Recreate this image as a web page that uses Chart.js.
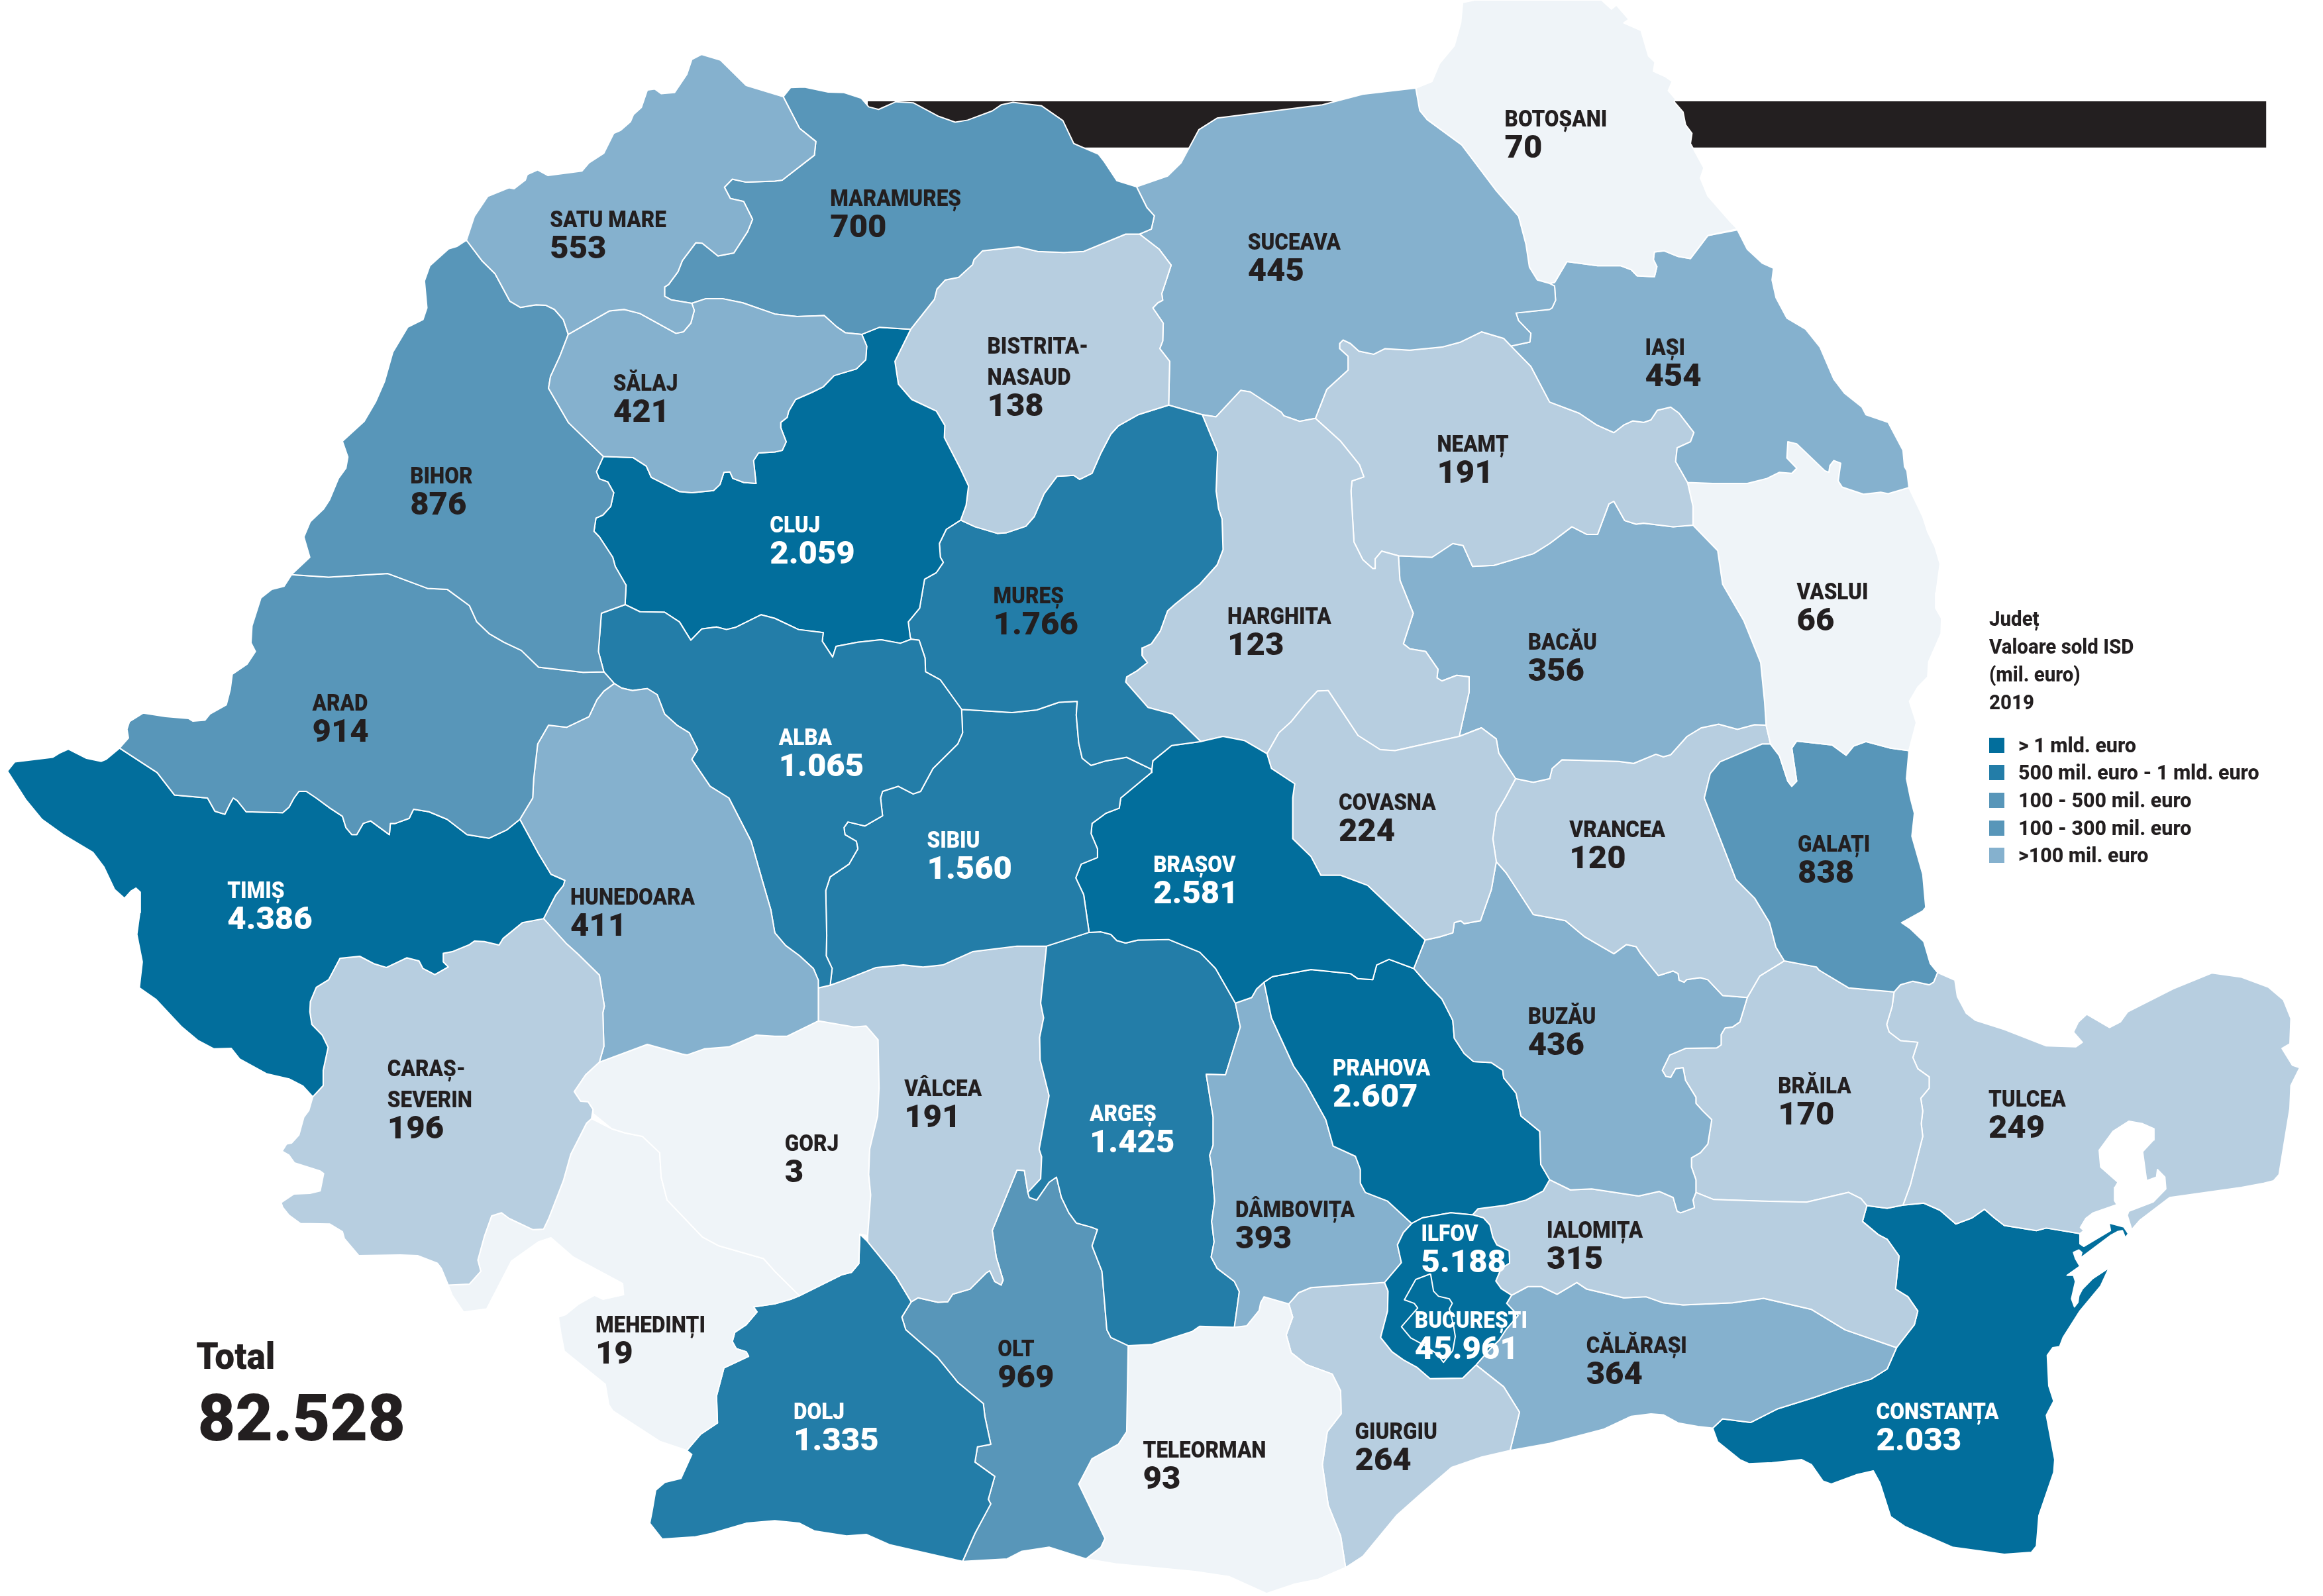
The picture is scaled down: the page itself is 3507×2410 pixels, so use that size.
<!DOCTYPE html>
<html lang="ro"><head><meta charset="utf-8"><title>Valoare sold ISD 2019</title>
<style>html,body{margin:0;padding:0;background:#fff}canvas{display:block}</style>
<script src="https://cdn.jsdelivr.net/npm/chart.js@4"></script></head>
<body><canvas id="c" width="3507" height="2410"></canvas>
<script>
const SatuMare=[944,472,960,425,987,386,1030,369,1040,371,1063,354,1067,343,1088,334,1109,345,1178,336,1192,320,1222,301,1242,262,1256,256,1276,239,1282,225,1298,211,1310,177,1325,175,1338,184,1365,182,1390,146,1400,117,1420,107,1458,118,1510,168,1585,190,1618,252,1651,278,1648,305,1583,354,1568,356,1510,358,1482,352,1466,368,1478,390,1505,396,1523,431,1513,455,1485,497,1453,503,1421,478,1408,477,1381,512,1372,534,1353,559,1345,564,1345,582,1358,589,1400,596,1405,610,1398,635,1383,652,1368,655,1295,616,1263,608,1233,611,1150,657,1140,628,1122,608,1105,600,1085,599,1053,604,1032,592,1002,538,975,512];
const Salaj=[1150,657,1233,611,1263,608,1295,616,1368,655,1383,652,1398,635,1405,610,1400,596,1428,587,1463,587,1503,595,1568,617,1613,622,1668,620,1693,642,1711,654,1744,657,1754,680,1752,707,1733,725,1688,738,1666,760,1643,771,1610,785,1596,808,1593,820,1580,830,1580,840,1591,868,1583,885,1568,888,1535,890,1525,905,1530,950,1505,948,1483,940,1477,927,1465,928,1457,952,1444,964,1400,968,1375,966,1318,938,1308,916,1281,899,1221,897,1150,830,1110,763,1114,740,1133,700];
const Maramures=[1585,190,1600,172,1628,171,1676,181,1708,182,1743,193,1758,210,1778,215,1813,200,1848,202,1898,228,1933,240,1958,236,2008,218,2026,206,2050,201,2108,208,2151,237,2173,282,2223,303,2235,318,2260,355,2300,367,2321,408,2336,424,2330,450,2306,460,2278,460,2193,494,2153,496,2100,494,2061,485,1988,493,1971,510,1968,520,1940,545,1913,550,1896,568,1891,588,1843,647,1780,643,1744,657,1711,654,1693,642,1668,620,1613,622,1568,617,1503,595,1463,587,1428,587,1400,596,1358,589,1345,582,1345,564,1353,559,1372,534,1381,512,1408,477,1421,478,1453,503,1485,497,1513,455,1523,431,1505,396,1478,390,1466,368,1482,352,1510,358,1568,356,1583,354,1648,305,1651,278,1618,252];
const Bihor=[944,472,975,512,1002,538,1032,592,1053,604,1085,599,1105,600,1122,608,1140,628,1150,657,1133,700,1114,740,1110,763,1150,830,1221,897,1207,927,1213,941,1230,947,1242,968,1236,995,1220,1012,1206,1018,1202,1044,1213,1055,1240,1095,1245,1113,1267,1150,1265,1188,1217,1205,1211,1280,1222,1320,1180,1321,1090,1311,1055,1278,1020,1262,990,1245,965,1222,950,1190,905,1158,865,1156,785,1127,665,1134,590,1129,627,1095,615,1055,628,1025,655,1000,667,982,685,940,700,920,704,898,693,867,737,828,760,790,778,750,795,692,825,643,856,628,864,605,859,552,870,522,908,489,925,484];
const Arad=[590,1129,665,1134,785,1127,865,1156,905,1158,950,1190,965,1222,990,1245,1020,1262,1055,1278,1090,1311,1180,1321,1222,1320,1243,1343,1222,1358,1208,1375,1192,1408,1147,1429,1110,1425,1088,1462,1080,1530,1078,1568,1052,1610,1025,1631,990,1647,945,1640,905,1610,868,1595,837,1590,828,1608,800,1618,790,1618,788,1640,750,1613,735,1618,722,1640,712,1640,700,1626,693,1604,668,1588,640,1568,620,1555,605,1555,595,1568,585,1586,572,1597,498,1595,480,1573,472,1568,465,1580,455,1600,435,1594,420,1568,353,1562,318,1518,242,1470,260,1450,257,1433,262,1418,290,1401,335,1408,382,1412,390,1417,415,1415,425,1403,458,1385,466,1355,470,1325,500,1305,517,1280,508,1263,510,1230,528,1175,550,1158,575,1152];
const Timis=[15,1515,30,1497,107,1488,120,1480,138,1472,175,1490,205,1496,215,1492,242,1470,318,1518,353,1562,420,1568,435,1594,455,1600,465,1580,472,1568,480,1573,498,1595,572,1597,585,1586,595,1568,605,1555,620,1555,640,1568,668,1588,693,1604,700,1626,712,1640,722,1640,735,1618,750,1613,788,1640,790,1618,800,1618,828,1608,837,1590,868,1595,905,1610,945,1640,990,1647,1025,1631,1052,1610,1090,1678,1115,1718,1143,1730,1140,1740,1125,1758,1100,1805,1057,1813,1018,1844,1010,1857,980,1850,960,1849,950,1856,915,1870,897,1873,897,1890,907,1900,880,1915,856,1903,848,1888,823,1882,782,1901,758,1894,728,1879,688,1883,665,1925,640,1940,628,1968,627,1988,631,2013,652,2034,664,2058,654,2103,654,2133,633,2155,613,2134,585,2120,540,2110,485,2081,468,2060,433,2061,400,2044,368,2018,316,1964,282,1941,288,1890,277,1836,283,1793,284,1753,275,1745,265,1751,252,1765,232,1748,210,1703,188,1675,128,1640,85,1610,52,1571];
const CarasSeverin=[688,1883,728,1879,758,1894,782,1901,823,1882,848,1888,856,1903,880,1915,907,1900,897,1890,897,1873,915,1870,950,1856,960,1849,980,1850,1010,1857,1018,1844,1057,1813,1100,1805,1147,1855,1170,1875,1213,1916,1223,1977,1220,1990,1222,2056,1213,2087,1185,2112,1162,2145,1175,2164,1190,2165,1200,2180,1197,2198,1187,2207,1155,2268,1140,2320,1110,2395,1100,2415,1078,2416,1030,2394,1015,2383,995,2389,980,2430,967,2476,973,2498,950,2523,907,2525,893,2492,885,2482,845,2467,810,2466,726,2467,697,2434,693,2420,667,2405,608,2404,585,2388,572,2372,569,2363,595,2346,627,2345,648,2340,655,2306,648,2301,596,2285,585,2270,571,2262,580,2248,590,2246,605,2230,615,2195,625,2182,633,2155,654,2133,654,2103,664,2058,652,2034,631,2013,627,1988,628,1968,640,1940,665,1925];
const Hunedoara=[1243,1343,1258,1352,1280,1357,1310,1353,1330,1365,1345,1403,1370,1425,1395,1440,1412,1473,1400,1492,1437,1545,1475,1568,1520,1653,1545,1738,1560,1788,1568,1833,1590,1858,1618,1878,1646,1903,1656,1926,1656,1941,1656,2006,1593,2036,1568,2036,1530,2034,1475,2057,1425,2061,1390,2073,1380,2071,1310,2052,1213,2087,1222,2056,1220,1990,1223,1977,1213,1916,1170,1875,1147,1855,1100,1805,1125,1758,1140,1740,1143,1730,1115,1718,1090,1678,1052,1610,1078,1568,1080,1530,1088,1462,1110,1425,1147,1429,1192,1408,1208,1375,1222,1358];
const Alba=[1217,1205,1265,1188,1295,1202,1345,1203,1375,1222,1398,1258,1420,1236,1450,1232,1470,1237,1488,1233,1540,1208,1568,1215,1616,1237,1666,1243,1664,1260,1685,1291,1692,1270,1736,1262,1783,1257,1822,1264,1844,1256,1860,1258,1872,1293,1873,1320,1903,1336,1946,1394,1948,1440,1938,1462,1888,1510,1863,1555,1848,1560,1818,1545,1786,1555,1782,1568,1786,1603,1750,1623,1716,1615,1708,1626,1710,1640,1733,1653,1736,1668,1718,1698,1680,1723,1671,1750,1673,1838,1672,1878,1684,1903,1680,1936,1656,1941,1656,1926,1646,1903,1618,1878,1590,1858,1568,1833,1560,1788,1545,1738,1520,1653,1475,1568,1437,1545,1400,1492,1412,1473,1395,1440,1370,1425,1345,1403,1330,1365,1310,1353,1280,1357,1258,1352,1243,1343,1222,1320,1211,1280];
const Cluj=[1221,897,1281,899,1308,916,1318,938,1375,966,1400,968,1444,964,1457,952,1465,928,1477,927,1483,940,1505,948,1530,950,1525,905,1535,890,1568,888,1583,885,1591,868,1580,840,1580,830,1593,820,1596,808,1610,785,1643,771,1666,760,1688,738,1733,725,1752,707,1754,680,1744,657,1780,643,1843,647,1811,710,1818,755,1845,785,1895,808,1912,836,1911,860,1943,920,1960,955,1955,993,1944,1022,1915,1040,1901,1068,1903,1095,1909,1105,1895,1125,1871,1138,1861,1195,1838,1222,1842,1252,1844,1256,1822,1264,1783,1257,1736,1262,1692,1270,1685,1291,1664,1260,1666,1243,1616,1237,1568,1215,1540,1208,1488,1233,1470,1237,1450,1232,1420,1236,1398,1258,1375,1222,1345,1203,1295,1202,1265,1188,1267,1150,1245,1113,1240,1095,1213,1055,1202,1044,1206,1018,1220,1012,1236,995,1242,968,1230,947,1213,941,1207,927];
const Bistrita=[1843,647,1891,588,1896,568,1913,550,1940,545,1968,520,1971,510,1988,493,2061,485,2100,494,2153,496,2193,494,2278,460,2306,460,2346,490,2370,521,2358,557,2351,577,2353,590,2343,595,2333,605,2354,635,2353,670,2347,685,2367,710,2365,796,2303,815,2263,837,2248,853,2228,890,2210,930,2185,942,2173,934,2139,936,2113,970,2093,1015,2076,1034,2036,1047,2018,1048,1973,1035,1944,1022,1955,993,1960,955,1943,920,1911,860,1912,836,1895,808,1845,785,1818,755,1811,710];
const Mures=[1944,1022,1973,1035,2018,1048,2036,1047,2076,1034,2093,1015,2113,970,2139,936,2173,934,2185,942,2210,930,2228,890,2248,853,2263,837,2303,815,2365,796,2433,815,2464,888,2461,965,2466,1000,2473,1020,2475,1080,2463,1110,2428,1148,2378,1187,2363,1200,2348,1240,2330,1265,2312,1273,2311,1288,2322,1302,2301,1318,2280,1330,2278,1340,2323,1390,2373,1403,2430,1457,2371,1465,2333,1495,2331,1512,2280,1488,2238,1495,2208,1504,2190,1490,2183,1460,2178,1405,2180,1378,2143,1380,2098,1395,2048,1400,2013,1398,1946,1394,1903,1336,1873,1320,1872,1293,1860,1258,1844,1256,1842,1252,1838,1222,1861,1195,1871,1138,1895,1125,1909,1105,1903,1095,1901,1068,1915,1040];
const Sibiu=[1946,1394,2013,1398,2048,1400,2098,1395,2143,1380,2180,1378,2178,1405,2183,1460,2190,1490,2208,1504,2238,1495,2280,1488,2331,1512,2330,1518,2268,1568,2265,1588,2238,1598,2210,1618,2208,1638,2221,1668,2221,1685,2188,1698,2177,1725,2193,1758,2204,1832,2118,1859,2058,1859,1968,1870,1908,1896,1868,1900,1828,1896,1773,1901,1708,1926,1680,1936,1684,1903,1672,1878,1673,1838,1671,1750,1680,1723,1718,1698,1736,1668,1733,1653,1710,1640,1708,1626,1716,1615,1750,1623,1786,1603,1782,1568,1786,1555,1818,1545,1848,1560,1863,1555,1888,1510,1938,1462,1948,1440];
const Brasov=[2331,1512,2333,1495,2371,1465,2430,1457,2475,1447,2518,1455,2564,1481,2573,1510,2620,1540,2616,1568,2616,1648,2653,1683,2673,1720,2713,1720,2768,1740,2884,1847,2861,1903,2811,1885,2786,1896,2778,1925,2748,1923,2733,1913,2653,1905,2575,1919,2558,1930,2543,1943,2533,1960,2500,1971,2460,1903,2428,1871,2365,1846,2303,1847,2278,1853,2260,1848,2248,1836,2228,1831,2204,1832,2193,1758,2177,1725,2188,1698,2221,1685,2221,1668,2208,1638,2210,1618,2238,1598,2265,1588,2268,1568,2330,1518];
const Covasna=[2564,1481,2588,1440,2613,1418,2643,1382,2666,1358,2688,1357,2748,1445,2793,1473,2823,1475,2953,1447,2998,1430,3028,1452,3033,1480,3067,1530,3046,1568,3028,1598,3021,1648,3028,1693,3018,1748,2996,1809,2963,1815,2956,1809,2943,1813,2940,1833,2913,1841,2884,1847,2768,1740,2713,1720,2673,1720,2653,1683,2616,1648,2616,1568,2620,1540,2573,1510];
const Harghita=[2433,815,2461,819,2511,767,2530,770,2593,810,2598,817,2630,828,2662,822,2713,867,2751,913,2760,937,2736,945,2734,965,2740,1065,2758,1100,2778,1117,2783,1117,2783,1098,2796,1083,2830,1092,2833,1140,2860,1205,2840,1265,2853,1275,2885,1280,2910,1315,2908,1332,2918,1338,2948,1327,2973,1330,2973,1360,2953,1447,2823,1475,2793,1473,2748,1445,2688,1357,2666,1358,2643,1382,2613,1418,2588,1440,2564,1481,2518,1455,2475,1447,2430,1457,2373,1403,2323,1390,2278,1340,2280,1330,2301,1318,2322,1302,2311,1288,2312,1273,2330,1265,2348,1240,2363,1200,2378,1187,2428,1148,2463,1110,2475,1080,2473,1020,2466,1000,2461,965,2464,888];
const Suceava=[2300,367,2363,346,2390,320,2426,255,2463,232,2676,206,2758,185,2865,173,2873,217,2888,235,2958,285,3028,375,3073,425,3088,480,3095,525,3111,550,3136,557,3146,562,3148,590,3141,605,3136,608,3068,615,3073,630,3098,655,3096,672,3058,680,3043,665,2998,652,2956,672,2918,682,2853,688,2803,685,2780,696,2750,690,2733,675,2718,668,2711,675,2711,685,2728,700,2728,727,2685,765,2662,822,2630,828,2598,817,2593,810,2530,770,2511,767,2461,819,2433,815,2365,796,2367,710,2347,685,2353,670,2354,635,2333,605,2343,595,2353,590,2351,577,2358,557,2370,521,2346,490,2306,460,2330,450,2336,424,2321,408];
const Botosani=[2865,173,2898,160,2913,125,2943,90,2956,45,2960,5,2985,0,3241,0,3261,18,3271,10,3296,38,3286,45,3321,60,3336,110,3349,122,3346,140,3369,150,3384,160,3376,178,3391,195,3388,200,3406,220,3411,245,3424,262,3421,282,3448,330,3441,350,3456,385,3501,435,3516,450,3456,463,3421,508,3396,504,3368,493,3348,495,3346,510,3353,524,3348,544,3313,542,3301,530,3279,522,3233,522,3171,514,3146,555,3136,557,3111,550,3095,525,3088,480,3073,425,3028,375,2958,285,2888,235,2873,217];
const Iasi=[3516,452,3536,490,3566,517,3589,527,3586,550,3594,585,3616,625,3654,647,3683,682,3711,745,3733,773,3768,800,3776,815,3821,830,3851,885,3854,917,3859,925,3863,958,3821,970,3806,967,3771,971,3728,957,3720,945,3725,910,3711,905,3703,915,3701,928,3693,925,3636,872,3618,868,3616,900,3636,920,3626,930,3601,928,3576,940,3536,950,3466,950,3415,948,3391,907,3394,880,3421,868,3428,850,3398,812,3381,800,3354,806,3341,825,3326,830,3304,827,3286,835,3266,850,3231,835,3196,812,3136,790,3098,720,3058,680,3096,672,3098,655,3073,630,3068,615,3136,608,3141,605,3148,590,3146,562,3136,557,3146,555,3171,514,3233,522,3279,522,3301,530,3313,542,3348,544,3353,524,3346,510,3348,495,3368,493,3396,504,3421,508,3456,463];
const Neamt=[2662,822,2685,765,2728,727,2728,700,2711,685,2711,675,2718,668,2733,675,2750,690,2780,696,2803,685,2853,688,2918,682,2956,672,2998,652,3043,665,3058,680,3098,720,3136,790,3196,812,3231,835,3266,850,3286,835,3304,827,3326,830,3341,825,3354,806,3381,800,3398,812,3428,850,3421,868,3394,880,3391,907,3415,948,3426,995,3426,1032,3386,1035,3326,1028,3311,1030,3288,1023,3266,985,3256,990,3233,1050,3211,1050,3181,1035,3136,1068,3103,1088,3023,1111,2980,1113,2961,1072,2940,1068,2898,1095,2830,1092,2796,1083,2783,1098,2783,1117,2778,1117,2758,1100,2740,1065,2734,965,2736,945,2760,937,2751,913,2713,867];
const Bacau=[2830,1092,2898,1095,2940,1068,2961,1072,2980,1113,3023,1111,3103,1088,3136,1068,3181,1035,3211,1050,3233,1050,3256,990,3266,985,3288,1023,3311,1030,3326,1028,3386,1035,3426,1032,3476,1082,3486,1148,3529,1220,3563,1302,3571,1380,3574,1425,3551,1424,3516,1433,3478,1423,3443,1430,3414,1447,3381,1483,3366,1487,3351,1482,3306,1500,3276,1496,3161,1493,3141,1510,3136,1530,3103,1537,3067,1530,3033,1480,3028,1452,2998,1430,2953,1447,2973,1360,2973,1330,2948,1327,2918,1338,2908,1332,2910,1315,2885,1280,2853,1275,2840,1265,2860,1205,2833,1140];
const Vaslui=[3415,948,3466,950,3536,950,3576,940,3601,928,3626,930,3636,920,3616,900,3618,868,3636,872,3693,925,3701,928,3703,915,3711,905,3725,910,3720,945,3728,957,3771,971,3806,967,3821,970,3863,958,3891,1015,3901,1045,3916,1075,3926,1108,3918,1165,3917,1195,3929,1215,3928,1245,3903,1300,3901,1330,3881,1350,3864,1378,3878,1420,3863,1475,3826,1470,3776,1457,3751,1466,3736,1484,3708,1464,3636,1456,3626,1470,3636,1535,3626,1545,3618,1535,3601,1485,3583,1462,3574,1425,3571,1380,3563,1302,3529,1220,3486,1148,3476,1082,3426,1032,3426,995];
const Galati=[3583,1462,3601,1485,3618,1535,3626,1545,3636,1535,3626,1470,3636,1456,3708,1464,3736,1484,3751,1466,3776,1457,3826,1470,3863,1475,3858,1530,3866,1568,3874,1598,3869,1643,3891,1718,3897,1783,3891,1790,3848,1813,3866,1825,3893,1850,3906,1893,3921,1911,3913,1930,3904,1935,3871,1928,3846,1935,3833,1949,3741,1941,3681,1906,3676,1900,3611,1888,3594,1861,3581,1813,3551,1765,3513,1728,3449,1568,3461,1520,3481,1497,3566,1462];
const Vrancea=[3103,1537,3136,1530,3141,1510,3161,1493,3276,1496,3306,1500,3351,1482,3366,1487,3381,1483,3414,1447,3443,1430,3478,1423,3516,1433,3551,1424,3574,1425,3583,1462,3566,1462,3481,1497,3461,1520,3449,1568,3513,1728,3551,1765,3581,1813,3594,1861,3611,1888,3561,1918,3536,1960,3486,1956,3456,1925,3441,1921,3413,1925,3408,1930,3398,1926,3396,1913,3386,1908,3356,1917,3321,1875,3311,1860,3291,1856,3266,1874,3206,1840,3168,1809,3136,1803,3103,1797,3048,1715,3028,1693,3021,1648,3028,1598,3046,1568,3067,1530];
const Buzau=[3028,1693,3048,1715,3103,1797,3136,1803,3168,1809,3206,1840,3266,1874,3291,1856,3311,1860,3321,1875,3356,1917,3386,1908,3396,1913,3398,1926,3408,1930,3413,1925,3441,1921,3456,1925,3486,1956,3536,1960,3521,2008,3506,2018,3491,2020,3483,2033,3483,2053,3474,2059,3411,2060,3379,2073,3364,2103,3371,2115,3381,2117,3391,2100,3406,2098,3411,2123,3432,2156,3432,2168,3446,2183,3464,2200,3456,2248,3441,2265,3423,2275,3423,2293,3432,2318,3432,2343,3426,2358,3429,2373,3401,2383,3394,2380,3386,2353,3358,2341,3316,2350,3221,2336,3178,2338,3136,2318,3118,2288,3116,2223,3078,2193,3068,2148,3043,2118,3041,2103,3018,2088,2982,2086,2963,2070,2943,2040,2940,2005,2918,1963,2888,1933,2861,1903,2884,1847,2913,1841,2940,1833,2943,1813,2956,1809,2963,1815,2996,1809,3018,1748];
const Prahova=[2558,1930,2575,1919,2653,1905,2733,1913,2748,1923,2778,1925,2786,1896,2811,1885,2861,1903,2888,1933,2918,1963,2940,2005,2943,2040,2963,2070,2982,2086,3018,2088,3041,2103,3043,2118,3068,2148,3078,2193,3116,2223,3118,2288,3136,2318,3123,2340,3088,2358,3048,2368,2991,2375,2980,2387,2936,2383,2878,2393,2857,2404,2808,2360,2763,2343,2753,2325,2753,2298,2743,2272,2698,2252,2683,2200,2643,2130,2618,2095,2573,2000];
const Dambovita=[2558,1930,2573,2000,2618,2095,2643,2130,2683,2200,2698,2252,2743,2272,2753,2298,2753,2325,2763,2343,2808,2360,2857,2404,2840,2422,2828,2446,2836,2481,2802,2520,2653,2530,2628,2540,2608,2562,2558,2548,2551,2560,2548,2575,2523,2605,2498,2608,2508,2538,2498,2518,2463,2492,2451,2470,2457,2440,2452,2400,2458,2360,2453,2300,2448,2270,2455,2250,2455,2195,2441,2111,2480,2112,2510,2018,2500,1971,2533,1960,2543,1943];
const Arges=[2118,1859,2204,1832,2228,1831,2248,1836,2260,1848,2278,1853,2303,1847,2365,1846,2428,1871,2460,1903,2500,1971,2510,2018,2480,2112,2441,2111,2455,2195,2455,2250,2448,2270,2453,2300,2458,2360,2452,2400,2457,2440,2451,2470,2463,2492,2498,2518,2508,2538,2498,2608,2428,2606,2413,2616,2330,2642,2283,2644,2248,2628,2240,2613,2230,2498,2210,2448,2221,2416,2208,2411,2178,2403,2163,2383,2148,2353,2138,2313,2123,2323,2098,2358,2083,2353,2080,2343,2106,2316,2108,2273,2103,2258,2123,2153,2105,2083,2104,2038,2112,2000,2106,1971];
const Valcea=[1656,1941,1680,1936,1708,1926,1773,1901,1828,1896,1868,1900,1908,1896,1968,1870,2058,1859,2118,1859,2106,1971,2112,2000,2104,2038,2105,2083,2123,2153,2103,2258,2108,2273,2106,2316,2080,2343,2073,2300,2058,2299,2008,2418,2016,2470,2030,2515,2026,2525,2013,2518,2003,2497,1996,2501,1963,2533,1928,2543,1918,2558,1898,2559,1858,2550,1844,2558,1813,2508,1756,2440,1756,2428,1762,2348,1758,2308,1760,2258,1776,2193,1779,2138,1777,2043,1753,2016,1728,2018,1656,2006];
const Gorj=[1213,2087,1310,2052,1380,2071,1390,2073,1425,2061,1475,2057,1530,2034,1568,2036,1593,2036,1656,2006,1728,2018,1753,2016,1777,2043,1779,2138,1776,2193,1760,2258,1758,2308,1762,2348,1756,2428,1740,2425,1738,2483,1723,2500,1703,2505,1618,2546,1568,2498,1545,2473,1455,2448,1422,2431,1350,2358,1338,2313,1335,2265,1300,2233,1265,2226,1238,2218,1200,2188,1200,2180,1190,2165,1175,2164,1162,2145,1185,2112];
const Mehedinti=[1197,2198,1187,2207,1155,2268,1140,2320,1110,2395,1100,2415,1078,2416,1030,2394,1015,2383,995,2389,980,2430,967,2476,973,2498,950,2523,907,2525,915,2545,938,2578,985,2572,1035,2478,1090,2440,1115,2432,1160,2470,1260,2522,1262,2544,1220,2553,1203,2545,1170,2563,1145,2583,1130,2588,1135,2620,1142,2655,1225,2720,1232,2760,1240,2772,1335,2832,1390,2850,1418,2818,1452,2796,1450,2743,1465,2688,1515,2665,1510,2656,1490,2650,1482,2636,1487,2618,1510,2603,1532,2578,1525,2568,1568,2562,1600,2553,1618,2546,1568,2498,1545,2473,1455,2448,1422,2431,1350,2358,1338,2313,1335,2265,1300,2233,1265,2226,1238,2218];
const Dolj=[1740,2425,1756,2440,1813,2508,1844,2558,1825,2588,1833,2613,1898,2668,1938,2716,1990,2758,1993,2783,2005,2838,1978,2843,1973,2873,2013,2901,2000,2946,2005,2955,1973,3013,1948,3068,1800,3035,1753,3015,1713,3018,1648,3008,1618,2993,1568,2988,1510,2993,1440,3013,1405,3020,1340,3024,1315,2993,1320,2968,1327,2928,1345,2913,1378,2905,1400,2858,1390,2850,1418,2818,1452,2796,1450,2743,1465,2688,1515,2665,1510,2656,1490,2650,1482,2636,1487,2618,1510,2603,1532,2578,1525,2568,1568,2562,1600,2553,1618,2546,1703,2505,1723,2500,1738,2483];
const Olt=[2080,2343,2083,2353,2098,2358,2123,2323,2138,2313,2148,2353,2163,2383,2178,2403,2208,2411,2221,2416,2210,2448,2230,2498,2240,2613,2248,2628,2283,2644,2280,2813,2263,2838,2210,2866,2183,2916,2236,3023,2228,3040,2198,3063,2123,3040,2068,3048,2038,3063,1948,3068,1973,3013,2005,2955,2000,2946,2013,2901,1973,2873,1978,2843,2005,2838,1993,2783,1990,2758,1938,2716,1898,2668,1833,2613,1825,2588,1844,2558,1858,2550,1898,2559,1918,2558,1928,2543,1963,2533,1996,2501,2003,2497,2013,2518,2026,2525,2030,2515,2016,2470,2008,2418,2058,2299,2073,2300];
const Teleorman=[2283,2644,2330,2642,2413,2616,2428,2606,2498,2608,2523,2605,2548,2575,2551,2560,2558,2548,2608,2562,2616,2588,2603,2623,2613,2658,2643,2681,2696,2700,2713,2733,2714,2778,2686,2813,2676,2878,2688,2958,2713,3018,2723,3080,2668,3103,2618,3113,2563,3131,2488,3098,2418,3088,2258,3073,2198,3063,2228,3040,2236,3023,2183,2916,2210,2866,2263,2838,2280,2813];
const Giurgiu=[2608,2562,2628,2540,2653,2530,2802,2520,2809,2537,2808,2576,2794,2628,2817,2656,2840,2672,2868,2687,2894,2709,2960,2708,2987,2682,3043,2725,3075,2775,3056,2850,2998,2863,2938,2883,2878,2933,2826,2978,2758,3058,2723,3080,2713,3018,2688,2958,2676,2878,2686,2813,2714,2778,2713,2733,2696,2700,2643,2681,2613,2658,2603,2623,2616,2588];
const Ilfov=[2857,2404,2878,2393,2936,2383,2980,2387,3002,2393,3015,2407,3021,2431,3029,2446,3054,2458,3055,2482,3038,2492,3027,2517,3038,2532,3059,2545,3049,2561,3072,2585,3048,2612,3034,2633,3014,2652,2987,2682,2960,2708,2894,2709,2868,2687,2840,2672,2817,2656,2794,2628,2808,2576,2809,2537,2802,2520,2836,2481,2828,2446,2840,2422];
const Bucuresti=[2895,2503,2865,2514,2842,2554,2862,2561,2869,2570,2836,2607,2855,2629,2882,2643,2909,2661,2921,2677,2940,2654,2945,2626,2941,2602,2933,2572,2939,2561,2933,2552,2911,2547,2901,2537];
const Ialomita=[2980,2387,2991,2375,3048,2368,3088,2358,3123,2340,3136,2318,3178,2338,3221,2336,3316,2350,3358,2341,3386,2353,3394,2380,3401,2383,3429,2373,3426,2358,3432,2343,3468,2357,3566,2360,3656,2362,3741,2343,3766,2355,3778,2369,3769,2400,3801,2426,3819,2435,3843,2468,3836,2533,3861,2548,3881,2576,3874,2603,3838,2648,3734,2613,3666,2573,3569,2551,3506,2560,3406,2564,3366,2560,3331,2548,3286,2550,3211,2533,3191,2520,3151,2543,3119,2528,3092,2528,3059,2545,3038,2532,3027,2517,3038,2492,3055,2482,3054,2458,3029,2446,3021,2431,3015,2407,3002,2393];
const Calarasi=[3059,2545,3092,2528,3119,2528,3151,2543,3191,2520,3211,2533,3286,2550,3331,2548,3366,2560,3406,2564,3506,2560,3569,2551,3666,2573,3734,2613,3838,2648,3819,2690,3786,2710,3734,2725,3671,2746,3598,2768,3543,2795,3486,2788,3466,2806,3436,2803,3396,2796,3366,2780,3341,2778,3301,2783,3246,2808,3136,2836,3056,2850,3075,2775,3043,2725,2987,2682,3014,2652,3034,2633,3048,2612,3072,2585,3049,2561];
const Braila=[3611,1888,3676,1900,3681,1906,3741,1941,3833,1949,3829,1978,3818,2013,3823,2028,3846,2045,3881,2048,3871,2078,3881,2100,3904,2116,3904,2138,3887,2158,3891,2183,3888,2208,3891,2233,3866,2328,3851,2368,3819,2374,3778,2369,3766,2355,3741,2343,3656,2362,3566,2360,3468,2357,3432,2343,3432,2318,3423,2293,3423,2275,3441,2265,3456,2248,3464,2200,3446,2183,3432,2168,3432,2156,3411,2123,3406,2098,3391,2100,3381,2117,3371,2115,3364,2103,3379,2073,3411,2060,3474,2059,3483,2053,3483,2033,3491,2020,3506,2018,3521,2008,3536,1960,3561,1918];
const Tulcea=[3921,1911,3956,1926,3961,1958,3979,1991,3998,2005,4056,2023,4141,2055,4201,2057,4214,2048,4196,2028,4206,2008,4223,1993,4269,2019,4291,2008,4306,1988,4398,1943,4476,1912,4536,1920,4591,1940,4621,1965,4636,2001,4634,2051,4618,2060,4639,2093,4654,2098,4636,2133,4634,2178,4612,2308,4601,2320,4581,2325,4536,2333,4391,2353,4388,2355,4330,2398,4314,2416,4305,2388,4308,2380,4357,2362,4383,2336,4381,2313,4366,2298,4364,2313,4344,2320,4336,2263,4358,2240,4359,2218,4336,2208,4308,2203,4276,2223,4248,2260,4251,2293,4286,2323,4280,2333,4279,2359,4284,2367,4236,2383,4221,2394,4210,2412,4217,2418,4209,2424,4141,2413,4121,2418,4056,2408,4036,2393,4016,2376,3991,2393,3958,2405,3926,2378,3893,2364,3851,2368,3866,2328,3891,2233,3888,2208,3891,2183,3887,2158,3904,2138,3904,2116,3881,2100,3871,2078,3881,2048,3846,2045,3823,2028,3818,2013,3829,1978,3833,1949,3846,1935,3871,1928,3904,1935,3913,1930];
const Constanta=[3778,2369,3819,2374,3851,2368,3893,2364,3926,2378,3958,2405,3991,2393,4016,2376,4036,2393,4056,2408,4121,2418,4141,2413,4209,2424,4209,2444,4217,2449,4271,2418,4268,2403,4298,2411,4307,2424,4301,2432,4295,2418,4285,2420,4272,2427,4210,2472,4213,2461,4207,2456,4196,2461,4200,2473,4209,2488,4183,2506,4196,2506,4200,2518,4192,2552,4198,2568,4205,2559,4207,2546,4214,2533,4234,2513,4268,2491,4251,2527,4209,2576,4175,2628,4168,2646,4154,2648,4143,2663,4146,2723,4156,2753,4141,2781,4158,2868,4156,2893,4126,2978,4121,3038,4111,3050,4056,3054,3951,3040,3856,3000,3826,2980,3804,2913,3791,2890,3756,2898,3706,2916,3689,2910,3666,2878,3646,2868,3586,2874,3539,2876,3521,2868,3476,2833,3466,2806,3486,2788,3543,2795,3598,2768,3671,2746,3734,2725,3786,2710,3819,2690,3838,2648,3874,2603,3881,2576,3861,2548,3836,2533,3843,2468,3819,2435,3801,2426,3769,2400];
const topBar=[1756,199,4586,199,4586,290,1756,290];

const countyNames=['BUCUREȘTI','ILFOV','SATU MARE','SĂLAJ','MARAMUREȘ','BIHOR','ARAD','TIMIȘ','CARAȘ-\nSEVERIN','HUNEDOARA','ALBA','CLUJ','BISTRITA-\nNASAUD','MUREȘ','SIBIU','BRAȘOV','COVASNA','HARGHITA','SUCEAVA','BOTOȘANI','IAȘI','NEAMȚ','BACĂU','VASLUI','GALAȚI','VRANCEA','BUZĂU','PRAHOVA','DÂMBOVIȚA','ARGEȘ','VÂLCEA','GORJ','MEHEDINȚI','DOLJ','OLT','TELEORMAN','GIURGIU','IALOMIȚA','CĂLĂRAȘI','BRĂILA','TULCEA','CONSTANȚA'];
const countyValues=[45961,5188,553,421,700,876,914,4386,196,411,1065,2059,138,1766,1560,2581,224,123,445,70,454,191,356,66,838,120,436,2607,393,1425,191,3,19,1335,969,93,264,315,364,170,249,2033];
const countyShapes=[Bucuresti,Ilfov,SatuMare,Salaj,Maramures,Bihor,Arad,Timis,CarasSeverin,Hunedoara,Alba,Cluj,Bistrita,Mures,Sibiu,Brasov,Covasna,Harghita,Suceava,Botosani,Iasi,Neamt,Bacau,Vaslui,Galati,Vrancea,Buzau,Prahova,Dambovita,Arges,Valcea,Gorj,Mehedinti,Dolj,Olt,Teleorman,Giurgiu,Ialomita,Calarasi,Braila,Tulcea,Constanta];
const countyClasses=[0,0,3,3,2,2,2,0,4,3,1,0,4,1,1,0,4,4,3,5,3,4,3,5,2,4,3,0,3,1,4,5,5,1,2,5,4,4,3,4,4,0];
const labelX=[2863,2876,1113,1241,1680,830,632,460,784,1154,1576,1558,1998,2010,1876,2334,2709,2484,2525,3045,3329,2908,3092,3636,3638,3176,3092,2697,2500,2205,1830,1588,1205,1606,2019,2313,2742,3130,3210,3598,4024,3797];
const labelY=[2609,2439,446,768,405,950,1396,1764,2115,1778,1464,1046,695,1186,1665,1714,1592,1226,490,248,698,888,1276,1178,1674,1645,2012,2113,2392,2203,2153,2262,2618,2788,2665,2864,2828,2432,2658,2148,2175,2788];
const whiteText=['BUCUREȘTI','ILFOV','TIMIȘ','ALBA','CLUJ','SIBIU','BRAȘOV','PRAHOVA','ARGEȘ','DOLJ','CONSTANȚA'];
const classColors=['#026E9C','#237DA8','#5896B9','#85B1CE','#B7CEE0','#EFF4F8'];
const legendTitle=['Județ','Valoare sold ISD','(mil. euro)','2019'];
const legendLabels=['> 1 mld. euro','500 mil. euro - 1 mld. euro','100 - 500 mil. euro','100 - 300 mil. euro','>100 mil. euro'];
const legendColors=['#026E9C','#237DA8','#5896B9','#5896B9','#85B1CE'];
const totalLabel='Total', totalValue=82528;
const ink='#231F20';

const toPoints=a=>{const p=[];for(let i=0;i<a.length;i+=2)p.push({x:a[i],y:a[i+1]});p.push({x:a[0],y:a[1]});return p;};
const fmt=n=>String(n).replace(/\B(?=(\d{3})+$)/g,'.');
const FONT='Roboto, sans-serif';
function txt(ctx,s,x,y,font,color,squeeze){ctx.font=font;ctx.fillStyle=color;const w=ctx.measureText(s).width;ctx.fillText(s,x,y,w*(squeeze||1));}

const labelsPlugin={id:'mapLabels',afterDatasetsDraw(chart){
  const ctx=chart.ctx,X=chart.scales.x,Y=chart.scales.y;
  ctx.save();ctx.textAlign='left';ctx.textBaseline='alphabetic';
  countyNames.forEach((name,i)=>{
    const col=whiteText.includes(name)?'#FFFFFF':ink;
    const px=X.getPixelForValue(labelX[i]);let py=Y.getPixelForValue(labelY[i]);
    name.split('\n').forEach((ln,k)=>{ if(k)py+=47; txt(ctx,ln,px,py,'900 35px '+FONT,col,0.9);});
    txt(ctx,fmt(countyValues[i]),px,py+47,'900 49px '+FONT,col,1);
  });
  txt(ctx,totalLabel,X.getPixelForValue(397),Y.getPixelForValue(2690),'900 56px '+FONT,ink,0.95);
  txt(ctx,fmt(totalValue),X.getPixelForValue(400),Y.getPixelForValue(2830),'900 98px '+FONT,ink,1.04);
  legendTitle.forEach((s,i)=>txt(ctx,s,3003,[945,987,1029,1071][i],'800 31px '+FONT,ink,0.95));
  legendLabels.forEach((s,i)=>{
    const t=[1114,1155,1197,1239,1280][i];
    ctx.fillStyle=legendColors[i];ctx.fillRect(3003,t,23,23);
    txt(ctx,s,3047,t+22,'800 31px '+FONT,ink,0.98);
  });
  ctx.restore();
}};

const datasets=countyShapes.map((s,i)=>({label:countyNames[i],data:toPoints(s),showLine:true,fill:'shape',
  backgroundColor:classColors[countyClasses[i]],borderColor:'#FFFFFF',borderWidth:2,pointRadius:0,tension:0,borderJoinStyle:'round'}));
datasets.push({label:'bar',data:toPoints(topBar),showLine:true,fill:'shape',backgroundColor:ink,borderColor:ink,borderWidth:0,pointRadius:0,tension:0});

new Chart(document.getElementById('c'),{type:'scatter',data:{datasets},plugins:[labelsPlugin],options:{
  responsive:false,animation:false,devicePixelRatio:1,layout:{padding:0},
  plugins:{legend:{display:false},tooltip:{enabled:false},title:{display:false}},
  events:[],
  scales:{x:{type:'linear',min:0,max:4701,display:false},y:{type:'linear',min:0,max:3136,reverse:true,display:false}}
}});
</script></body></html>
